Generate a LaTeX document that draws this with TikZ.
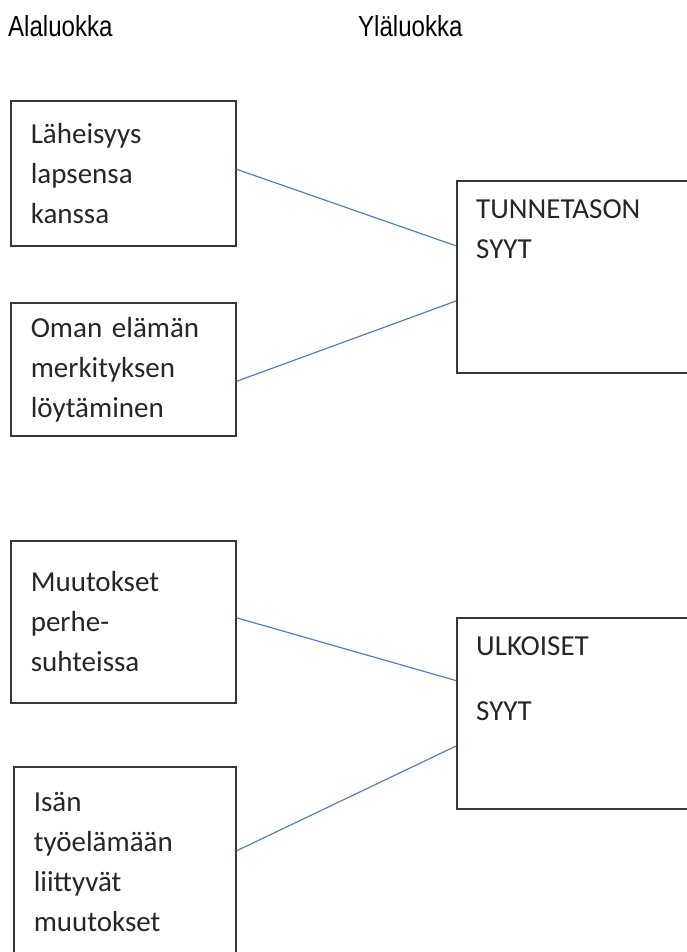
\documentclass[tikz,border=0pt]{standalone}
\usepackage{fontspec}
\setmainfont{Carlito}
\newfontfamily\otsikkofont{Liberation Sans}
\usetikzlibrary{calc}
\definecolor{viiva}{RGB}{79,129,189}
\definecolor{reuna}{RGB}{55,55,55}
\begin{document}
\begin{tikzpicture}[x=1pt,y=-1pt,
    otsikko/.style={anchor=base west,inner sep=0pt,xscale=.83,font=\otsikkofont\fontsize{29}{34}\selectfont},
    alabox/.style={draw=reuna,line width=1.6pt,anchor=north west,align=left,text width=185pt,
        inner xsep=20pt,inner ysep=0pt,font=\fontsize{29}{40}\selectfont,text=black!85},
    ylabox/.style={draw=reuna,line width=1.6pt,anchor=north west,minimum width=260pt},
    ylateksti/.style={anchor=north west,align=left,inner xsep=20pt,inner ysep=19pt,
        font=\fontsize{29}{40}\selectfont,text=black!85},
    yhteys/.style={draw=viiva,line width=1.2pt}]
        \useasboundingbox (0,0) rectangle (686,952);
        \node[otsikko] (ala) at (8,37) {Alaluokka};
        \node[otsikko] (yla) at (358,37) {Yläluokka};

        \node[alabox,minimum height=145pt] (laheisyys) at (10,100) {Läheisyys\\lapsensa\\kanssa};
        \node[alabox,minimum height=133pt] (merkitys) at (10,302) {Oman elämän\\merkityksen\\löytäminen};
        \node[alabox,minimum height=162pt] (perhe) at (10,540) {Muutokset\\perhe-\\suhteissa};
        \node[alabox,text width=182pt,minimum height=190pt] (isa) at (13,766) {Isän\\työelämään\\liittyvät\\muutokset};

        \node[ylabox,minimum height=192pt,
            label={[ylateksti]north west:TUNNETASON\\SYYT}] (tunne) at (456,180) {};
        \node[ylabox,minimum height=191pt,
            label={[ylateksti,font=\fontsize{29}{65}\selectfont]north west:ULKOISET\\SYYT}] (ulkoiset) at (456,617) {};

        \draw[yhteys] ([yshift=4]laheisyys.east) -- ($(tunne.north west)!.34!(tunne.south west)$);
        \draw[yhteys] ([yshift=-12]merkitys.east) -- ($(tunne.north west)!.625!(tunne.south west)$);
        \draw[yhteys] ([yshift=4]perhe.east) -- ($(ulkoiset.north west)!.33!(ulkoiset.south west)$);
        \draw[yhteys] ([yshift=11]isa.east) -- ($(ulkoiset.north west)!.67!(ulkoiset.south west)$);
\end{tikzpicture}
\end{document}
